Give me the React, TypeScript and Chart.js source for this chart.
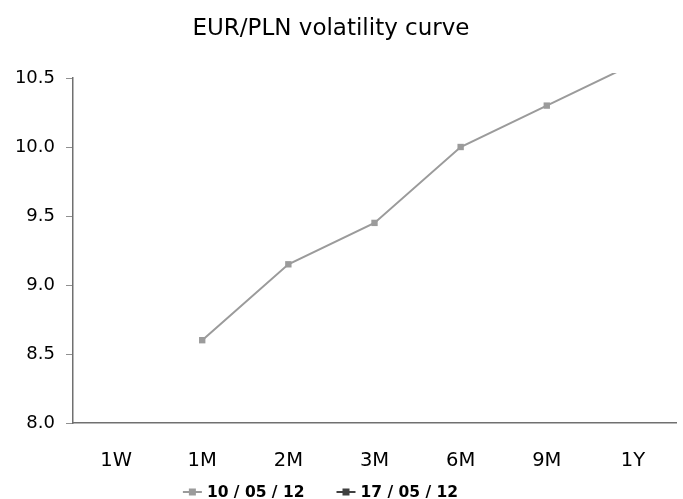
import React, { useEffect, useRef } from "react";
import { Chart, registerables } from "chart.js";

Chart.register(...registerables);

const TITLE = "EUR/PLN volatility curve";
const tenors = ["1W", "1M", "2M", "3M", "6M", "9M", "1Y"];
const seriesNames = ["10 / 05 / 12", "17 / 05 / 12"];
const vol100512: (number | null)[] = [null, 8.6, 9.15, 9.45, 10.0, 10.3, 10.6];
const vol170512: (number | null)[] = [null, null, null, null, null, null, null];
const seriesColors = ["#9b9b9b", "#404040"];
const yTicks = [8.0, 8.5, 9.0, 9.5, 10.0, 10.5];

const FONT = "'DejaVu Sans', Verdana, sans-serif";

// Draws the title and the line+marker legend
const decorations = {
  id: "decorations",
  afterDraw(chart: Chart) {
    const ctx = chart.ctx;
    ctx.save();
    ctx.fillStyle = "#000";
    ctx.font = `23px ${FONT}`;
    ctx.textAlign = "center";
    ctx.textBaseline = "alphabetic";
    ctx.fillText(TITLE, 331, 35);

    ctx.font = `bold 15.5px ${FONT}`;
    ctx.textAlign = "left";
    ctx.textBaseline = "middle";
    const markLen = 19;
    const gapText = 5;
    const gapItem = 32;
    const widths = chart.data.datasets.map(
      (ds) => markLen + gapText + ctx.measureText(String(ds.label)).width
    );
    const total = widths.reduce((a, b) => a + b, 0) + gapItem * (widths.length - 1);
    let x = 320.5 - total / 2;
    const y = 492;
    chart.data.datasets.forEach((ds, i) => {
      const c = seriesColors[i];
      ctx.strokeStyle = c;
      ctx.lineWidth = 2;
      ctx.beginPath();
      ctx.moveTo(x, y);
      ctx.lineTo(x + markLen, y);
      ctx.stroke();
      ctx.fillStyle = c;
      ctx.fillRect(x + markLen / 2 - 3.5, y - 3.5, 7, 7);
      ctx.fillStyle = "#000";
      ctx.fillText(String(ds.label), x + markLen + gapText, y + 1);
      x += widths[i] + gapItem;
    });
    ctx.restore();
  },
};

export default function App() {
  const ref = useRef<HTMLCanvasElement | null>(null);

  useEffect(() => {
    document.body.style.margin = "0";
    const canvas = ref.current!;
    const chart = new Chart(canvas, {
      type: "line",
      data: {
        labels: tenors,
        datasets: [vol100512, vol170512].map((d, i) => ({
          label: seriesNames[i],
          data: d,
          borderColor: seriesColors[i],
          backgroundColor: seriesColors[i],
          borderWidth: 2,
          pointStyle: "rect",
          pointRadius: 4.5,
          pointBorderWidth: 0,
          tension: 0,
          clip: 5,
        })),
      },
      options: {
        animation: false,
        responsive: false,
        maintainAspectRatio: false,
        layout: { padding: { top: 78, right: 7, bottom: 26, left: 0 } },
        plugins: {
          legend: { display: false },
          title: { display: false },
          tooltip: { enabled: false },
        },
        scales: {
          x: {
            offset: true,
            grid: { display: false, offset: true },
            border: { display: true, color: "#707070", width: 1.5 },
            ticks: {
              color: "#000",
              font: { family: FONT, size: 19.5 },
              padding: 18,
              maxRotation: 0,
            },
            afterFit: (s: any) => {
              s.height = 50;
            },
          },
          y: {
            min: 8,
            max: 10.5,
            afterBuildTicks: (s: any) => {
              s.ticks = yTicks.map((v) => ({ value: v }));
            },
            grid: {
              display: true,
              drawOnChartArea: false,
              drawTicks: true,
              tickLength: 7,
              color: "#909090",
            },
            border: { display: true, color: "#707070", width: 1.5 },
            ticks: {
              color: "#000",
              font: { family: FONT, size: 18 },
              padding: 11,
              callback: (v: any) => Number(v).toFixed(1),
            },
            afterFit: (s: any) => {
              s.width = 73;
            },
          },
        },
      },
      plugins: [decorations],
    });
    return () => chart.destroy();
  }, []);

  return (
    <div style={{ position: "fixed", left: 0, top: 0, width: 683, height: 499, background: "#fff" }}>
      <canvas ref={ref} width={683} height={499} style={{ width: 683, height: 499 }} />
    </div>
  );
}
